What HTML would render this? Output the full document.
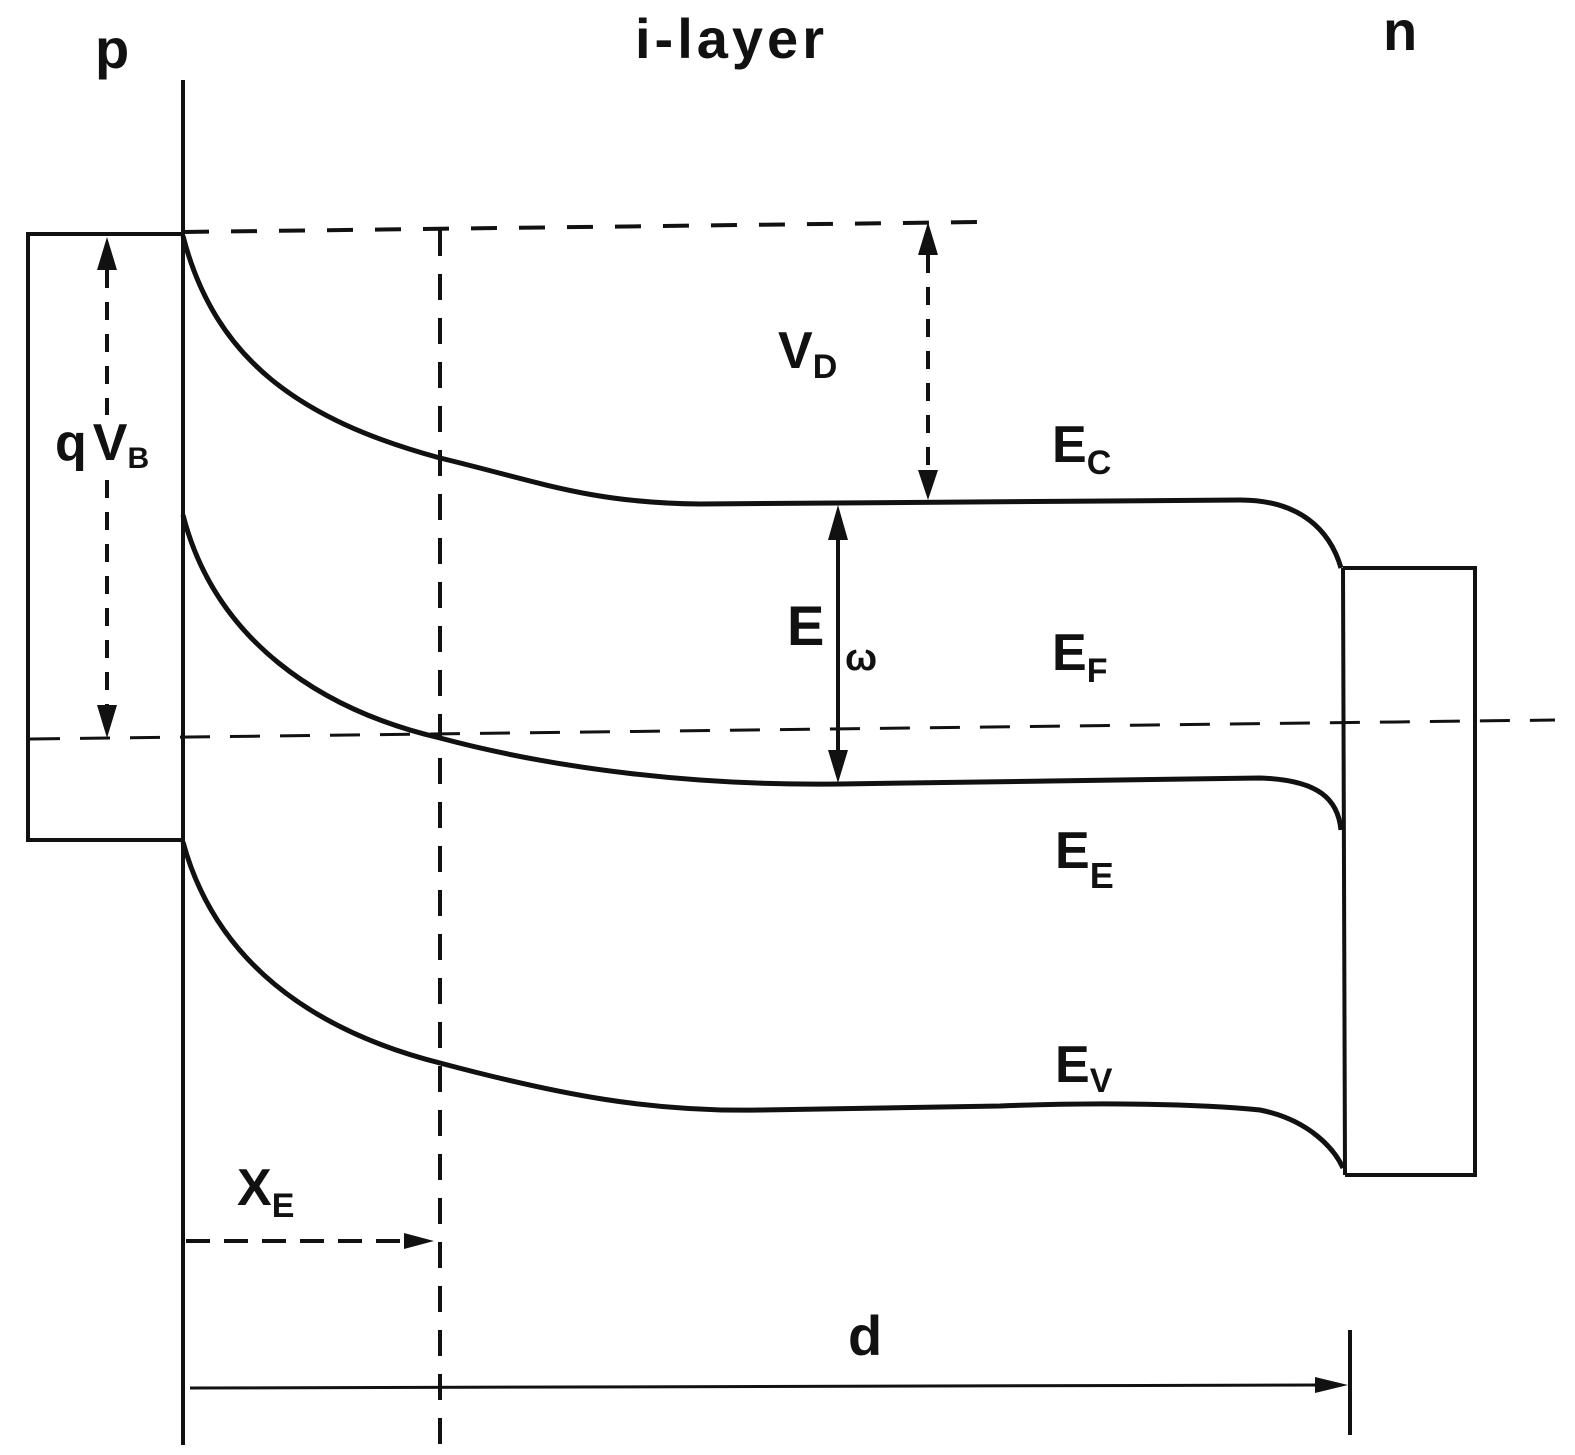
<!DOCTYPE html>
<html><head><style>
html,body{margin:0;padding:0;background:#fff;}
svg{display:block;}
text{font-family:"Liberation Sans",sans-serif;font-weight:bold;fill:#111;}
</style></head><body>
<svg width="1575" height="1455" viewBox="0 0 1575 1455" xmlns="http://www.w3.org/2000/svg">
<g stroke="#111" fill="none">
<line x1="183" y1="80" x2="183" y2="1445" stroke-width="4"/>
<polyline points="183,234 28,234 28,840 183,840" stroke-width="4"/>
<polyline points="1343,568 1475,568 1475,1175 1345,1175" stroke-width="4"/>
<line x1="1343" y1="568" x2="1345" y2="1175" stroke-width="4"/>
<line x1="183" y1="232" x2="980" y2="222" stroke-width="4" stroke-dasharray="26,22"/>
<line x1="440" y1="230" x2="440" y2="1445" stroke-width="4" stroke-dasharray="26,18"/>
<line x1="30" y1="739" x2="1555" y2="720" stroke-width="3" stroke-dasharray="30,20"/>
<line x1="107" y1="270" x2="107" y2="415" stroke-width="4" stroke-dasharray="18,14"/>
<line x1="107" y1="480" x2="107" y2="705" stroke-width="4" stroke-dasharray="18,14"/>
<line x1="928" y1="255" x2="928" y2="470" stroke-width="4" stroke-dasharray="18,14"/>
<line x1="838" y1="535" x2="838" y2="755" stroke-width="4"/>
<line x1="186" y1="1241" x2="410" y2="1241" stroke-width="4" stroke-dasharray="24,14"/>
<line x1="190" y1="1388" x2="1320" y2="1385" stroke-width="3"/>
<line x1="1350" y1="1330" x2="1350" y2="1435" stroke-width="4"/>
<path d="M183,236 C215,360 300,420 440,458 C540,482 590,503 700,504 L1240,500 C1300,500 1330,530 1341,568" stroke-width="5"/>
<path d="M183,515 C215,640 320,710 440,738 C560,770 700,786 840,784 L1260,778 C1320,780 1338,800 1341,830" stroke-width="5"/>
<path d="M183,842 C215,960 310,1030 440,1063 C560,1095 650,1112 760,1110 L1000,1106 C1100,1102 1200,1104 1260,1110 C1310,1120 1335,1150 1343,1168" stroke-width="5"/>
</g>
<g fill="#111">
<polygon points="107,237 97,270 117,270"/>
<polygon points="107,738 97,705 117,705"/>
<polygon points="928,222 918,255 938,255"/>
<polygon points="928,500 918,470 938,470"/>
<polygon points="838,505 828,540 848,540"/>
<polygon points="838,783 828,750 848,750"/>
<polygon points="434,1241 404,1233 404,1249"/>
<polygon points="1348,1385 1315,1377 1315,1393"/>
</g>
<text x="95" y="68" font-size="56">p</text>
<text x="635" y="58" font-size="56" letter-spacing="4">i-layer</text>
<text x="1383" y="50" font-size="56">n</text>
<text x="778" y="368" font-size="52">V<tspan font-size="34" dy="10">D</tspan></text>
<text x="55" y="460" font-size="52">q<tspan dx="6">V</tspan><tspan font-size="30" dy="8">B</tspan></text>
<text x="1052" y="462" font-size="52">E<tspan font-size="34" dy="12">C</tspan></text>
<text x="787" y="645" font-size="56">E</text>
<text x="845" y="670" font-size="38">ω</text>
<text x="1052" y="670" font-size="52">E<tspan font-size="34" dy="12">F</tspan></text>
<text x="1055" y="868" font-size="52">E<tspan font-size="36" dy="20">E</tspan></text>
<text x="1055" y="1082" font-size="52">E<tspan font-size="34" dy="10">V</tspan></text>
<text x="237" y="1205" font-size="52">X<tspan font-size="34" dy="12">E</tspan></text>
<text x="848" y="1355" font-size="56">d</text>
</svg>
</body></html>
